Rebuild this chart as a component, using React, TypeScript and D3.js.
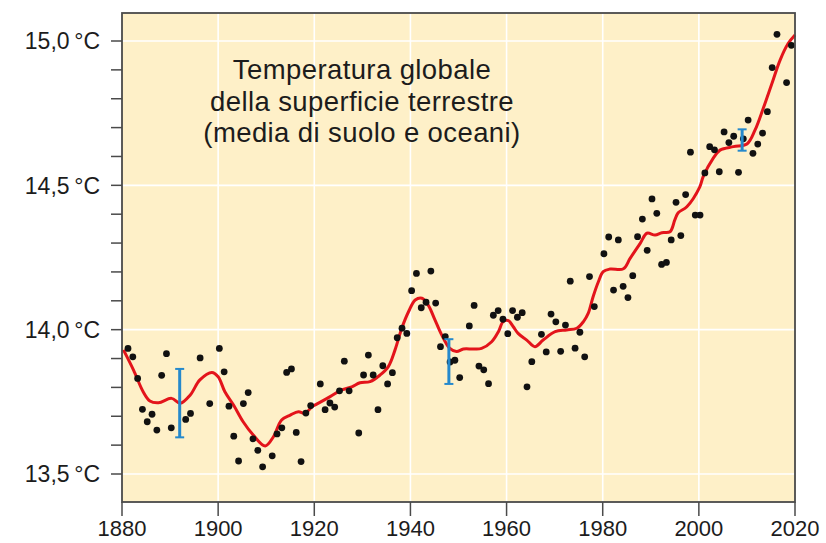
import * as d3 from "d3";

// annual means (dots)
const DOT_YEARS = [
  1881, 1882, 1883, 1884, 1885, 1886, 1887, 1888, 1889, 1890, 1893, 1894, 1896, 1898,
  1900, 1901, 1902, 1903, 1904, 1905, 1906, 1907, 1908, 1909, 1911, 1912, 1913, 1914,
  1915, 1916, 1917, 1918, 1919, 1921, 1922, 1923, 1924, 1925, 1926, 1927, 1929, 1930,
  1931, 1932, 1933, 1934, 1935, 1936, 1937, 1938, 1939, 1940, 1941, 1942, 1943, 1944,
  1945, 1946, 1947, 1948, 1949, 1950, 1952, 1953, 1954, 1955, 1956, 1957, 1958, 1959,
  1960, 1961, 1962, 1963, 1964, 1965, 1967, 1968, 1969, 1970, 1971, 1972, 1973, 1974,
  1975, 1976, 1977, 1978, 1980, 1981, 1982, 1983, 1984, 1985, 1986, 1987, 1988, 1989,
  1990, 1991, 1992, 1993, 1994, 1995, 1996, 1997, 1998, 1999, 2000, 2001, 2002, 2003,
  2004, 2005, 2006, 2007, 2008, 2009, 2010, 2011, 2012, 2013, 2014, 2015, 2016, 2018,
  2019,
];
const DOT_VALUES = [
  13.935, 13.906, 13.831, 13.724, 13.681, 13.707, 13.652, 13.842, 13.917, 13.66, 13.689, 13.71, 13.902, 13.744,
  13.935, 13.854, 13.735, 13.631, 13.545, 13.744, 13.782, 13.622, 13.582, 13.525, 13.563, 13.639, 13.66, 13.852,
  13.864, 13.644, 13.543, 13.711, 13.737, 13.812, 13.723, 13.746, 13.732, 13.788, 13.891, 13.788, 13.642, 13.843,
  13.912, 13.843, 13.723, 13.875, 13.812, 13.851, 13.972, 14.005, 13.987, 14.135, 14.195, 14.076, 14.095, 14.203,
  14.092, 13.941, 13.976, 13.888, 13.894, 13.834, 14.013, 14.084, 13.874, 13.861, 13.813, 14.05, 14.066, 14.036,
  13.986, 14.066, 14.043, 14.059, 13.802, 13.889, 13.984, 13.923, 14.054, 14.027, 13.925, 14.016, 14.168, 13.936,
  13.991, 13.906, 14.184, 14.08, 14.263, 14.321, 14.137, 14.311, 14.15, 14.111, 14.187, 14.322, 14.383, 14.275,
  14.453, 14.403, 14.226, 14.233, 14.311, 14.441, 14.326, 14.468, 14.615, 14.397, 14.397, 14.543, 14.634, 14.623,
  14.547, 14.685, 14.648, 14.67, 14.545, 14.661, 14.726, 14.611, 14.643, 14.681, 14.755, 14.908, 15.023, 14.856,
  14.985,
];

// smoothed curve (red)
const TREND_YEARS = [
  1880.3, 1882.4, 1884.4, 1885.8, 1887.6, 1890.3, 1892.1, 1894.2, 1896.2, 1898.7, 1900.0, 1901.4,
  1903.2, 1905.2, 1907.3, 1909.8, 1911.5, 1913.2, 1915.0, 1916.7, 1918.1, 1919.5, 1920.5, 1923.3,
  1925.7, 1927.8, 1929.5, 1931.6, 1933.7, 1935.4, 1936.8, 1938.2, 1939.6, 1941.0, 1942.4, 1943.7,
  1945.1, 1946.5, 1948.2, 1949.6, 1951.0, 1953.1, 1954.8, 1956.9, 1958.3, 1959.3, 1960.4, 1961.4,
  1962.4, 1964.2, 1965.9, 1967.6, 1970.1, 1972.5, 1974.6, 1976.0, 1977.0, 1978.0, 1979.1, 1980.1,
  1981.5, 1984.3, 1985.7, 1987.8, 1989.2, 1990.9, 1992.3, 1994.0, 1995.0, 1995.7, 1997.5, 2000.2,
  2000.9, 2003.0, 2004.4, 2007.2, 2010.0, 2011.7, 2013.4, 2015.2, 2016.9, 2018.6, 2020.0,
];
const TREND_VALUES = [
  13.93, 13.86, 13.785, 13.753, 13.747, 13.762, 13.745, 13.774, 13.826, 13.852, 13.837, 13.785,
  13.739, 13.681, 13.635, 13.597, 13.629, 13.687, 13.704, 13.716, 13.71, 13.733, 13.742, 13.768,
  13.791, 13.802, 13.816, 13.82, 13.843, 13.872, 13.93, 14.005, 14.062, 14.103, 14.109, 14.085,
  14.034, 13.982, 13.935, 13.924, 13.933, 13.933, 13.935, 13.958, 13.993, 14.028, 14.031, 14.01,
  13.987, 13.964, 13.941, 13.964, 13.993, 13.999, 14.005, 14.028, 14.057, 14.114, 14.166, 14.201,
  14.21, 14.211, 14.247, 14.299, 14.334, 14.328, 14.336, 14.339, 14.38, 14.405, 14.426, 14.495,
  14.53, 14.594, 14.622, 14.634, 14.643, 14.692, 14.767, 14.853, 14.934, 14.992, 15.021,
];

// uncertainty bars (blue)
const ERR_YEARS = [1892, 1948, 2009];
const ERR_LOW = [13.627, 13.812, 14.62];
const ERR_HIGH = [13.864, 13.967, 14.694];

const X_TICKS = [1880, 1900, 1920, 1940, 1960, 1980, 2000, 2020];
const Y_MAJOR = [13.5, 14.0, 14.5, 15.0];
const Y_MINOR = [13.5, 13.6, 13.7, 13.8, 13.9, 14.0, 14.1, 14.2, 14.3, 14.4, 14.5, 14.6, 14.7, 14.8, 14.9, 15.0];
const TITLE_LINES = ["Temperatura globale", "della superficie terrestre", "(media di suolo e oceani)"];

const W = 826;
const H = 543;
const LEFT = 122;
const RIGHT = 795;
const TOP = 13;
const BOTTOM = 502;

const FONT = "'Liberation Sans', Arial, Helvetica, sans-serif";
const INK = "#1c1c1c";
const AXIS = "#4a4a4a";
const BG = "#fef0c8";
const RED = "#e3141b";
const BLUE = "#2589cc";

export default function App() {
  const x = d3.scaleLinear().domain([1880, 2020]).range([LEFT, RIGHT]);
  const y = d3.scaleLinear().domain([13.5, 15.0]).range([474, 41]);

  const trend = TREND_YEARS.map((yr, i) => [yr, TREND_VALUES[i]] as [number, number]);
  const line = d3
    .line<[number, number]>()
    .x((d) => x(d[0]))
    .y((d) => y(d[1]))
    .curve(d3.curveCatmullRom.alpha(0.5));

  const fmt = (v: number) => v.toFixed(1).replace(".", ",") + "\u2009°C";

  return (
    <svg
      width={W}
      height={H}
      style={{ position: "absolute", left: 0, top: 0, display: "block", background: "#fff" }}
      fontFamily={FONT}
    >
      <rect x={LEFT} y={TOP} width={RIGHT - LEFT} height={BOTTOM - TOP} fill={BG} />

      {/* grid */}
      {X_TICKS.slice(1, -1).map((t) => (
        <line key={"gx" + t} x1={x(t)} x2={x(t)} y1={TOP} y2={BOTTOM} stroke="#fff" strokeWidth={1.6} />
      ))}
      {Y_MAJOR.map((t) => (
        <line key={"gy" + t} x1={LEFT} x2={RIGHT} y1={y(t)} y2={y(t)} stroke="#fff" strokeWidth={1.6} />
      ))}

      {/* title */}
      {TITLE_LINES.map((s, i) => (
        <text
          key={s}
          x={362}
          y={79 + i * 31.5}
          textAnchor="middle"
          fontSize={27.5}
          letterSpacing={0.4}
          fill={INK}
        >
          {s}
        </text>
      ))}

      {/* smoothed curve */}
      <path d={line(trend) || ""} fill="none" stroke={RED} strokeWidth={3} strokeLinejoin="round" />

      {/* annual dots */}
      {DOT_YEARS.map((yr, i) => (
        <circle key={yr} cx={x(yr + 0.25)} cy={y(DOT_VALUES[i])} r={3.4} fill="#111" />
      ))}

      {/* error bars */}
      {ERR_YEARS.map((yr, i) => {
        const cx = x(yr);
        const y0 = y(ERR_LOW[i]);
        const y1 = y(ERR_HIGH[i]);
        return (
          <g key={yr} stroke={BLUE} strokeWidth={3}>
            <line x1={cx} x2={cx} y1={y0} y2={y1} />
            <line x1={cx - 4.5} x2={cx + 4.5} y1={y0} y2={y0} strokeWidth={2} />
            <line x1={cx - 4.5} x2={cx + 4.5} y1={y1} y2={y1} strokeWidth={2} />
          </g>
        );
      })}

      {/* frame */}
      <rect x={LEFT} y={TOP} width={RIGHT - LEFT} height={BOTTOM - TOP} fill="none" stroke={AXIS} strokeWidth={1.8} />

      {/* y axis */}
      {Y_MINOR.map((t) => (
        <line key={"ty" + t} x1={LEFT - 11} x2={LEFT} y1={y(t)} y2={y(t)} stroke={AXIS} strokeWidth={1.5} />
      ))}
      {Y_MAJOR.map((t) => (
        <text key={"ly" + t} x={LEFT - 22} y={y(t)} dy="0.36em" textAnchor="end" fontSize={23} fill={INK}>
          {fmt(t)}
        </text>
      ))}

      {/* x axis */}
      {X_TICKS.map((t) => (
        <g key={"tx" + t}>
          <line x1={x(t)} x2={x(t)} y1={BOTTOM} y2={BOTTOM + 14} stroke={AXIS} strokeWidth={1.5} />
          <text x={x(t)} y={536} textAnchor="middle" fontSize={22} fill={INK}>
            {t}
          </text>
        </g>
      ))}
    </svg>
  );
}
